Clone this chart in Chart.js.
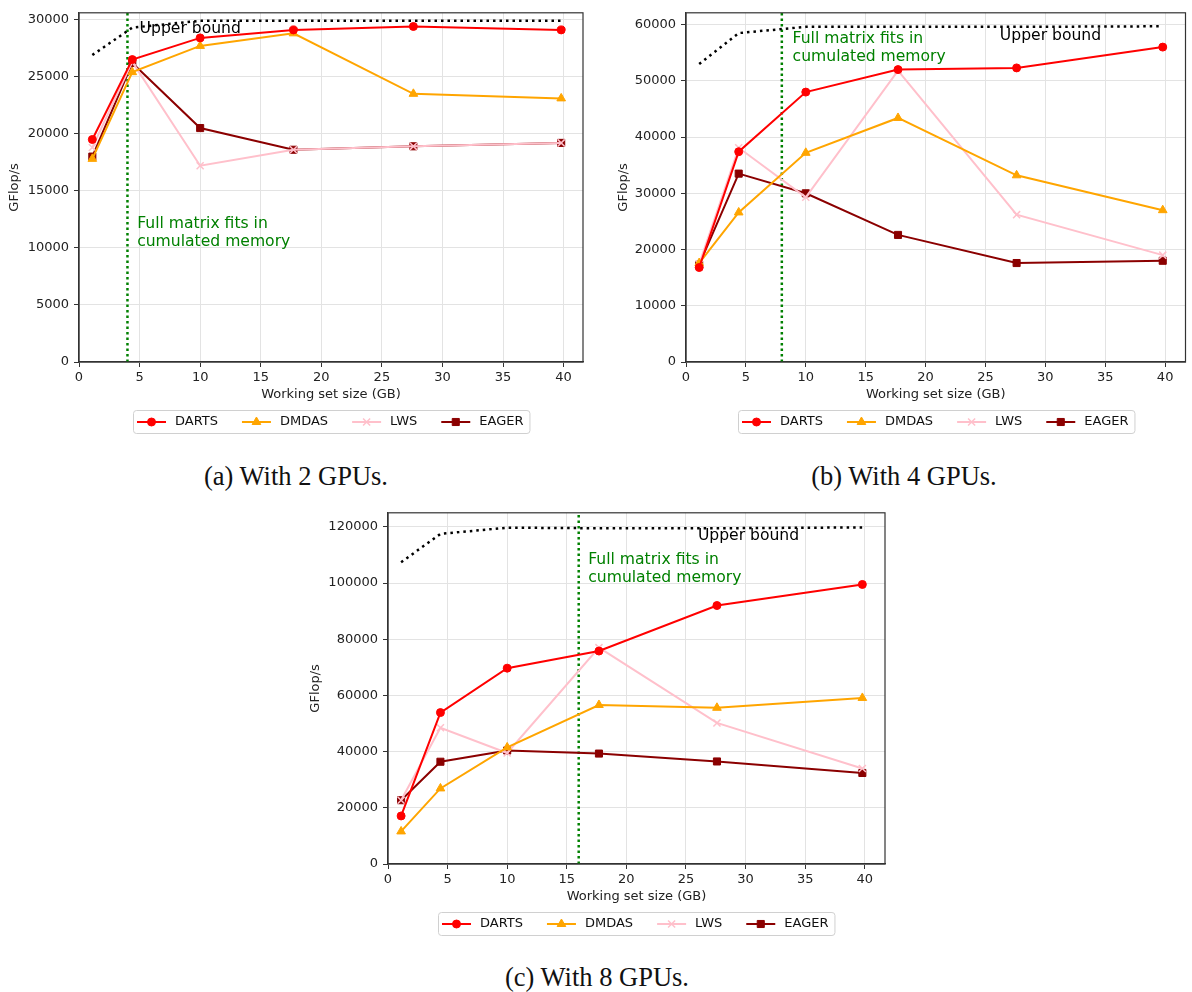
<!DOCTYPE html>
<html>
<head>
<meta charset="utf-8">
<script src="https://cdn.jsdelivr.net/npm/chart.js@4.4.1/dist/chart.umd.min.js"></script>
<style>
  body { margin: 0; background: #fff; width: 1192px; height: 992px; position: relative; overflow: hidden; }
  canvas { position: absolute; }
  .cap { position: absolute; font-family: "Liberation Serif", serif; font-size: 26.5px; color: #111; text-align: center; width: 400px; line-height: 30px; }
</style>
</head>
<body>
<canvas id="c2" style="left:0px;top:0px;width:592px;height:440px" width="592" height="440"></canvas>
<canvas id="c4" style="left:600px;top:0px;width:592px;height:440px" width="592" height="440"></canvas>
<canvas id="c8" style="left:300px;top:500px;width:592px;height:445px" width="592" height="445"></canvas>
<div class="cap" style="left:96px;top:461px">(a) With 2 GPUs.</div>
<div class="cap" style="left:704px;top:461px">(b) With 4 GPUs.</div>
<div class="cap" style="left:397px;top:962px">(c) With 8 GPUs.</div>
<script>
// ---- data ----
const sizes = [1.1, 4.4, 10, 17.7, 27.6, 39.8]; // working set size (GB)
const seriesNames = ["DARTS", "DMDAS", "LWS", "EAGER"];
const memLimits = [4, 8, 16]; // full matrix fits in cumulated memory (GB)
const xTicks = [0, 5, 10, 15, 20, 25, 30, 35, 40];

// 2 GPUs
const darts2 = [19500, 26500, 28400, 29100, 29400, 29100];
const dmdas2 = [17800, 25400, 27700, 28800, 23500, 23100];
const lws2   = [18800, 26300, 17200, 18600, 18900, 19200];
const eager2 = [18000, 26200, 20500, 18600, 18900, 19200];
const upper2 = [26900, 29300, 29900, 29900, 29900, 29900];
const yTicks2 = [0, 5000, 10000, 15000, 20000, 25000, 30000];

// 4 GPUs
const darts4 = [16800, 37400, 48000, 52000, 52300, 56000];
const dmdas4 = [17600, 26600, 37200, 43400, 33200, 27000];
const lws4   = [17400, 38100, 29300, 51800, 26200, 19000];
const eager4 = [17300, 33500, 30000, 22600, 17600, 18000];
const upper4 = [53000, 58500, 59600, 59600, 59600, 59700];
const yTicks4 = [0, 10000, 20000, 30000, 40000, 50000, 60000];

// 8 GPUs
const darts8 = [17100, 53900, 69700, 75800, 92000, 99500];
const dmdas8 = [11600, 26900, 41500, 56600, 55600, 59100];
const lws8   = [22700, 48500, 39500, 77000, 50200, 34000];
const eager8 = [22700, 36400, 40400, 39300, 36500, 32400];
const upper8 = [107400, 117500, 119700, 119500, 119500, 119800];
const yTicks8 = [0, 20000, 40000, 60000, 80000, 100000, 120000];

// ---- styles ----
const seriesColors = ["#ff0000", "#ffa500", "#ffc0cb", "#8b0000"];
const seriesMarkers = [
    { style: "circle", r: 4, bw: 1 },
    { style: "triangle", r: 5, bw: 1 },
    { style: "crossRot", r: 5, bw: 1.5 },
    { style: "rect", r: 5, bw: 1 }
];
const FONT = '"DejaVu Sans", sans-serif';
const AXIS_FONT = { family: FONT, size: 13 };

const panels = [
    { id: "c2", series: [darts2, dmdas2, lws2, eager2], upper: upper2, limit: memLimits[0], yTicks: yTicks2,
      yWidth: 79, pad: { top: 8, right: 9, bottom: 38, left: 0 }, xMax: 41.6, yMax: 30600, yTitlePad: 7,
      upperAt: { x: 5.0, y: 29150 }, memAt: { x: 4.8, y: 12100 } },
    { id: "c4", series: [darts4, dmdas4, lws4, eager4], upper: upper4, limit: memLimits[1], yTicks: yTicks4,
      yWidth: 86, pad: { top: 8, right: 3, bottom: 38, left: 0 }, xMax: 41.7, yMax: 62100, yTitlePad: 16,
      upperAt: { x: 26.2, y: 58070 }, memAt: { x: 8.9, y: 57540 } },
    { id: "c8", series: [darts8, dmdas8, lws8, eager8], upper: upper8, limit: memLimits[2], yTicks: yTicks8,
      yWidth: 88, pad: { top: 11, right: 7, bottom: 41, left: 0 }, xMax: 41.7, yMax: 125000, yTitlePad: 8,
      upperAt: { x: 26.0, y: 116700 }, memAt: { x: 16.8, y: 108300 } }
];

function toPoints(ys) {
    return sizes.map((x, i) => ({ x: x, y: ys[i] }));
}

// frame, notes and legend
const decorPlugin = {
    id: "decor",
    afterDraw(chart) {
        const ctx = chart.ctx;
        const ca = chart.chartArea;
        const p = chart.options.plugins.decor;
        const xs = chart.scales.x, ys = chart.scales.y;

        ctx.save();
        // spines
        ctx.strokeStyle = "#333";
        ctx.lineWidth = 1.2;
        ctx.strokeRect(ca.left, ca.top, ca.right - ca.left, ca.bottom - ca.top);

        // text notes
        ctx.font = "15.6px " + FONT;
        ctx.textBaseline = "middle";
        ctx.textAlign = "left";
        ctx.fillStyle = "#000";
        ctx.fillText("Upper bound", xs.getPixelForValue(p.upperAt.x), ys.getPixelForValue(p.upperAt.y));
        ctx.fillStyle = "#008000";
        const mx = xs.getPixelForValue(p.memAt.x), my = ys.getPixelForValue(p.memAt.y);
        ctx.fillText("Full matrix fits in", mx, my);
        ctx.fillText("cumulated memory", mx, my + 18);

        // legend
        ctx.font = "13px " + FONT;
        const widths = seriesNames.map(n => ctx.measureText(n).width);
        let total = 10 + 24 * (seriesNames.length - 1);
        widths.forEach(w => total += 38 + w);
        const boxL = Math.round((ca.left + ca.right) / 2 - total / 2);
        const boxT = Math.round(ca.bottom + 48), boxH = 23;
        ctx.beginPath();
        if (ctx.roundRect) ctx.roundRect(boxL + 0.5, boxT + 0.5, total, boxH, 3);
        else ctx.rect(boxL + 0.5, boxT + 0.5, total, boxH);
        ctx.fillStyle = "rgba(255,255,255,0.8)";
        ctx.fill();
        ctx.strokeStyle = "#d0d0d0";
        ctx.lineWidth = 1;
        ctx.stroke();

        const cy = boxT + boxH / 2 + 0.5;
        let x = boxL + 4;
        seriesNames.forEach((name, i) => {
            const col = seriesColors[i], mk = seriesMarkers[i];
            ctx.strokeStyle = col;
            ctx.fillStyle = col;
            ctx.lineWidth = 2;
            ctx.beginPath();
            ctx.moveTo(x, cy);
            ctx.lineTo(x + 29, cy);
            ctx.stroke();
            ctx.lineWidth = mk.bw;
            if (Chart.helpers && Chart.helpers.drawPoint) {
                Chart.helpers.drawPoint(ctx, { pointStyle: mk.style, radius: mk.r, rotation: 0, borderWidth: mk.bw }, x + 14.5, cy);
            }
            ctx.fillStyle = "#111";
            ctx.textBaseline = "middle";
            ctx.fillText(name, x + 38, cy);
            x += 38 + widths[i] + 24;
        });
        ctx.restore();
    }
};

panels.forEach(p => {
    const datasets = p.series.map((ys, i) => ({
        label: seriesNames[i],
        data: toPoints(ys),
        borderColor: seriesColors[i],
        backgroundColor: seriesColors[i],
        borderWidth: 2,
        pointStyle: seriesMarkers[i].style,
        pointRadius: seriesMarkers[i].r,
        pointBorderWidth: seriesMarkers[i].bw,
        tension: 0
    }));
    datasets.push({
        label: "Upper bound",
        data: toPoints(p.upper),
        borderColor: "#000",
        borderWidth: 2.5,
        borderDash: [2.5, 4],
        pointRadius: 0,
        tension: 0
    });
    datasets.push({
        label: "limit",
        data: [{ x: p.limit, y: 0 }, { x: p.limit, y: p.yMax }],
        borderColor: "#008000",
        borderWidth: 2.5,
        borderDash: [2.5, 3],
        pointRadius: 0
    });

    new Chart(document.getElementById(p.id), {
        type: "line",
        data: { datasets: datasets },
        plugins: [decorPlugin],
        options: {
            responsive: false,
            animation: false,
            events: [],
            layout: { padding: p.pad },
            plugins: {
                legend: { display: false },
                tooltip: { enabled: false },
                decor: { upperAt: p.upperAt, memAt: p.memAt }
            },
            scales: {
                x: {
                    type: "linear",
                    min: 0,
                    max: p.xMax,
                    afterFit: s => { s.height = 40; },
                    afterBuildTicks: s => { s.ticks = xTicks.map(v => ({ value: v })); },
                    ticks: { font: AXIS_FONT, color: "#222", padding: 3, maxRotation: 0, autoSkip: false, callback: v => String(v) },
                    grid: { color: "#e3e3e3", lineWidth: 1, tickLength: 5, tickColor: "#333" },
                    border: { color: "#333", width: 1.2 },
                    title: { display: true, text: "Working set size (GB)", font: AXIS_FONT, color: "#222", padding: { top: 0, bottom: 0 } }
                },
                y: {
                    min: 0,
                    max: p.yMax,
                    afterFit: s => { s.width = p.yWidth; },
                    afterBuildTicks: s => { s.ticks = p.yTicks.map(v => ({ value: v })); },
                    ticks: { font: AXIS_FONT, color: "#222", padding: 5, autoSkip: false, callback: v => String(v) },
                    grid: { color: "#e3e3e3", lineWidth: 1, tickLength: 5, tickColor: "#333" },
                    border: { color: "#333", width: 1.2 },
                    title: { display: true, text: "GFlop/s", font: AXIS_FONT, color: "#222", padding: { top: p.yTitlePad, bottom: 0 } }
                }
            }
        }
    });
});
</script>
</body>
</html>
